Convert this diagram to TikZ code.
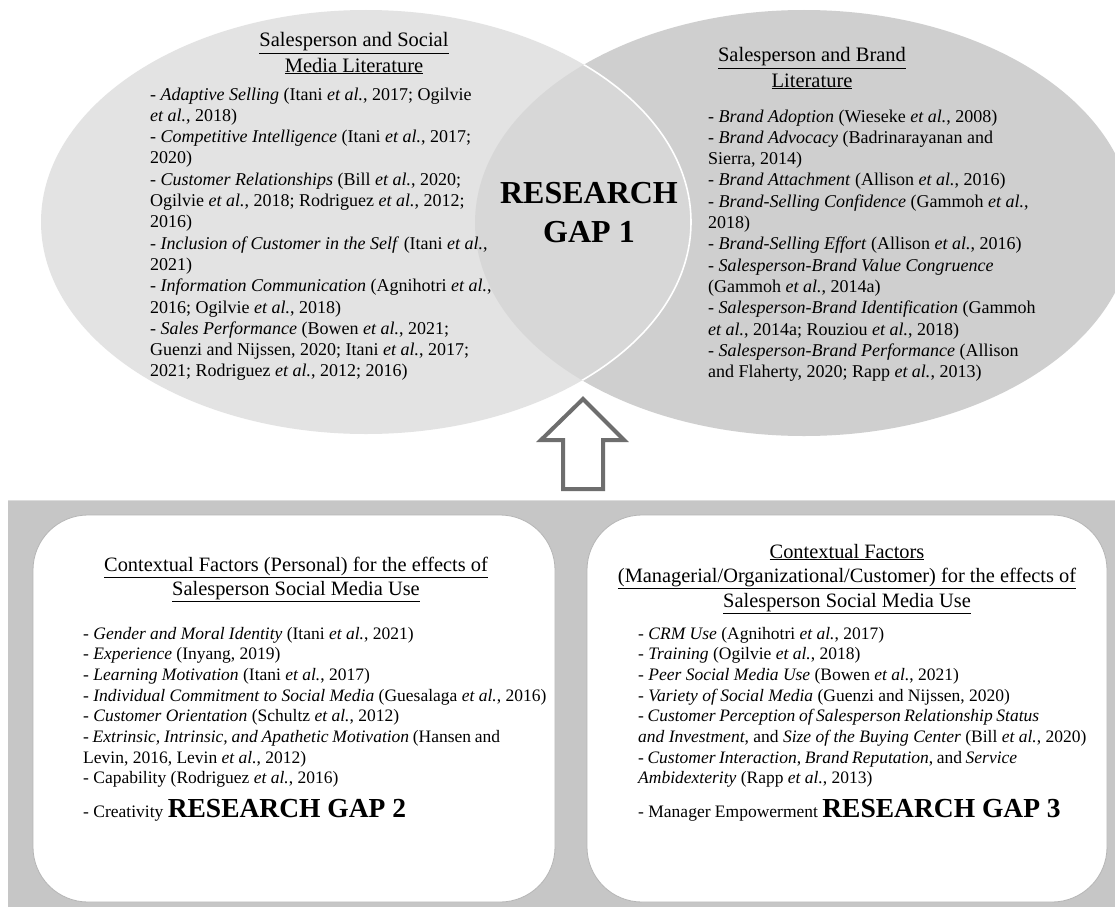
\documentclass[tikz,border=0pt]{standalone}
\usepackage{fontspec}
\setmainfont{Liberation Serif}
\newcommand\etal{\textit{et al.}}
\definecolor{leftc}{HTML}{E3E3E3}
\definecolor{rightc}{HTML}{CFCFCF}
\definecolor{overc}{HTML}{D7D7D7}
\definecolor{bandc}{HTML}{C6C6C6}
\definecolor{bandtop}{HTML}{DCDCDC}
\definecolor{arrowc}{HTML}{6E6E6E}
\definecolor{boxline}{HTML}{B5B5B5}
\begin{document}
\begin{tikzpicture}[x=1pt,y=-1pt,
  bodytop/.style={anchor=base west, inner sep=0pt, font=\fontsize{18}{21.3}\selectfont},
  bodybot/.style={anchor=base west, inner sep=0pt, font=\fontsize{17.5}{20.7}\selectfont},
  titletop/.style={anchor=base, inner sep=0pt, font=\fontsize{20.5}{25}\selectfont},
  titlebot/.style={anchor=base, inner sep=0pt, font=\fontsize{20.4}{24.8}\selectfont},
  gapbig/.style={anchor=base, inner sep=0pt, font=\fontsize{32}{39}\selectfont\bfseries},
  whitebox/.style={fill=white, draw=boxline, line width=0.8pt, rounded corners=55pt}]
\useasboundingbox (0,0) rectangle (1115,907);
\fill[white] (0,0) rectangle (1115,907);
% ellipses
\fill[rightc] (804,223) ellipse [x radius=329, y radius=213];
\fill[leftc] (366,222) ellipse [x radius=325, y radius=212];
\begin{scope}
  \clip (804,223) ellipse [x radius=329, y radius=213];
  \fill[overc] (366,222) ellipse [x radius=325, y radius=212];
  \draw[white, line width=1.6pt] (366,222) ellipse [x radius=325, y radius=212];
\end{scope}
% left ellipse text
\node[titletop] (lt) at (354,47) {\begin{tabular}[t]{@{}c@{}}\underline{Salesperson and Social}\\\underline{Media Literature}\end{tabular}};
\node[bodytop] (lb) at (150,100) {\begin{tabular}[t]{@{}l@{}}
- \textit{Adaptive Selling} (Itani \etal, 2017; Ogilvie\\
\etal, 2018)\\
- \textit{Competitive Intelligence} (Itani \etal, 2017;\\
2020)\\
- \textit{Customer Relationships} (Bill \etal, 2020;\\
Ogilvie \etal, 2018; Rodriguez \etal, 2012;\\
2016)\\
- \textit{Inclusion of Customer in the Self} (Itani \etal,\\
2021)\\
- \textit{Information Communication} (Agnihotri \etal,\\
2016; Ogilvie \etal, 2018)\\
- \textit{Sales Performance} (Bowen \etal, 2021;\\
Guenzi and Nijssen, 2020; Itani \etal, 2017;\\
2021; Rodriguez \etal, 2012; 2016)
\end{tabular}};
% right ellipse text
\node[titletop] (rt) at (812,62) {\begin{tabular}[t]{@{}c@{}}\underline{Salesperson and Brand}\\\underline{Literature}\end{tabular}};
\node[bodytop] (rb) at (708,122) {\begin{tabular}[t]{@{}l@{}}
- \textit{Brand Adoption} (Wieseke \etal, 2008)\\
- \textit{Brand Advocacy} (Badrinarayanan and\\
Sierra, 2014)\\
- \textit{Brand Attachment} (Allison \etal, 2016)\\
- \textit{Brand-Selling Confidence} (Gammoh \etal,\\
2018)\\
- \textit{Brand-Selling Effort} (Allison \etal, 2016)\\
- \textit{Salesperson-Brand Value Congruence}\\
(Gammoh \etal, 2014a)\\
- \textit{Salesperson-Brand Identification} (Gammoh\\
\etal, 2014a; Rouziou \etal, 2018)\\
- \textit{Salesperson-Brand Performance} (Allison\\
and Flaherty, 2020; Rapp \etal, 2013)
\end{tabular}};
% research gap 1
\node[gapbig] (gap1) at (589,203) {\begin{tabular}[t]{@{}c@{}}RESEARCH\\GAP 1\end{tabular}};
% arrow
\draw[arrowc, line width=4pt, fill=white, line join=miter]
  (563,489) -- (563,440) -- (541,440) -- (583,399) -- (624,440) -- (603,440) -- (603,489) -- cycle;
% band
\fill[bandc] (8,500) rectangle (1115,907);
\draw[bandtop, line width=1.5pt] (8,500.5) -- (1115,500.5);
\draw[whitebox] (33,515) rectangle (555,902);
\draw[whitebox] (587,515) rectangle (1107,902);
% bottom left box
\node[titlebot] (blt) at (296,571) {\begin{tabular}[t]{@{}c@{}}\underline{Contextual Factors (Personal) for the effects of}\\\underline{Salesperson Social Media Use}\end{tabular}};
\node[bodybot] (blb) at (83,639) {\begin{tabular}[t]{@{}l@{}}
- \textit{Gender and Moral Identity} (Itani \etal, 2021)\\
- \textit{Experience} (Inyang, 2019)\\
- \textit{Learning Motivation} (Itani \etal, 2017)\\
- \textit{Individual Commitment to Social Media} (Guesalaga \etal, 2016)\\
- \textit{Customer Orientation} (Schultz \etal, 2012)\\
\makebox[417pt][s]{- \textit{Extrinsic, Intrinsic, and Apathetic Motivation} (Hansen and}\\
Levin, 2016, Levin \etal, 2012)\\
- Capability (Rodriguez \etal, 2016)
\end{tabular}};
\node[bodybot] (gap2) at (83,817) {- Creativity {\fontsize{27.5}{30}\selectfont\bfseries RESEARCH GAP 2}};
% bottom right box
\node[titlebot] (brt) at (847,558) {\begin{tabular}[t]{@{}c@{}}\underline{Contextual Factors}\\\underline{(Managerial/Organizational/Customer) for the effects of}\\\underline{Salesperson Social Media Use}\end{tabular}};
\node[bodybot] (brb) at (638,639) {\begin{tabular}[t]{@{}l@{}}
- \textit{CRM Use} (Agnihotri \etal, 2017)\\
- \textit{Training} (Ogilvie \etal, 2018)\\
- \textit{Peer Social Media Use} (Bowen \etal, 2021)\\
- \textit{Variety of Social Media} (Guenzi and Nijssen, 2020)\\
\makebox[401pt][s]{- \textit{Customer Perception of Salesperson Relationship Status}}\\
\textit{and Investment}, and \textit{Size of the Buying Center} (Bill \etal, 2020)\\
\makebox[379pt][s]{- \textit{Customer Interaction}, \textit{Brand Reputation}, and \textit{Service}}\\
\textit{Ambidexterity} (Rapp \etal, 2013)
\end{tabular}};
\node[bodybot] (gap3) at (638,817) {- Manager Empowerment {\fontsize{27.5}{30}\selectfont\bfseries RESEARCH GAP 3}};
\end{tikzpicture}
\end{document}
